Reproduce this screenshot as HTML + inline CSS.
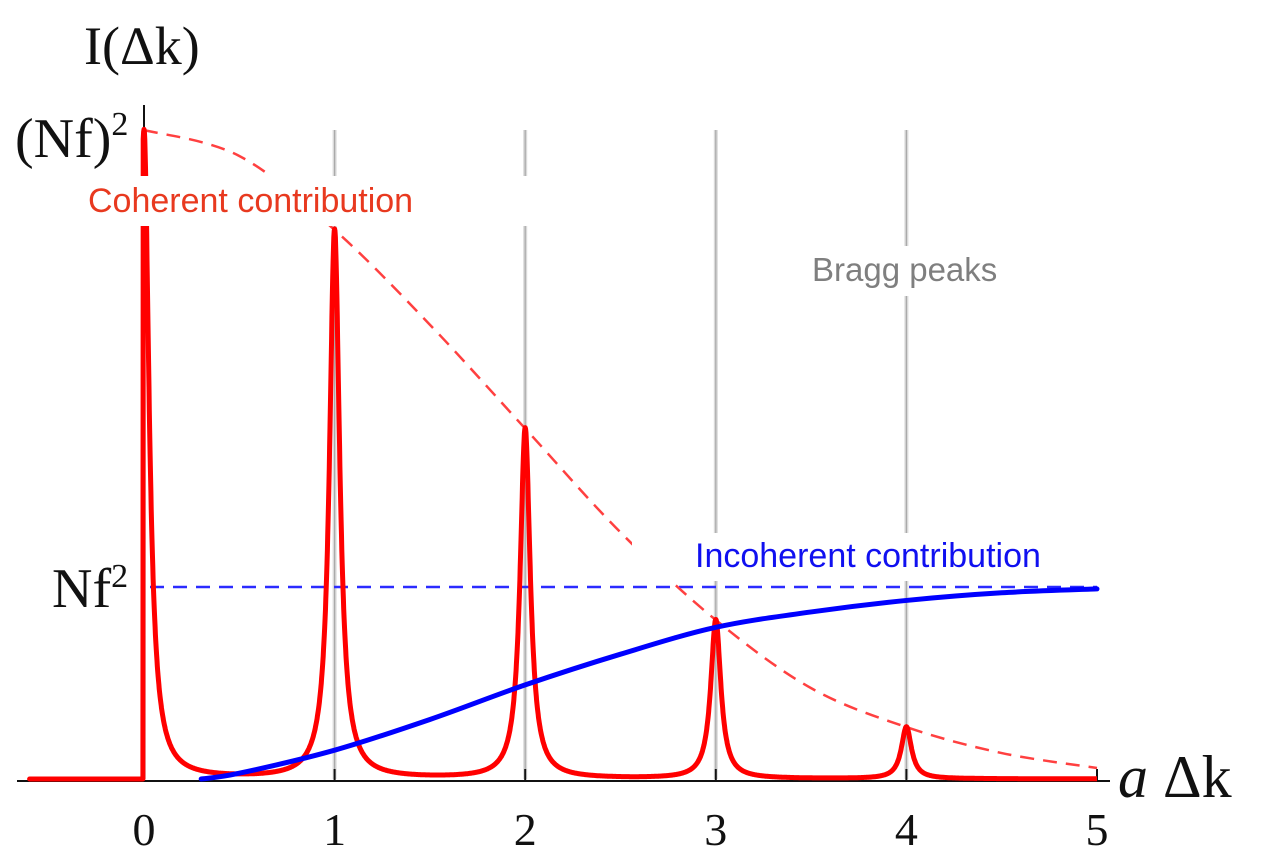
<!DOCTYPE html>
<html><head><meta charset="utf-8"><style>
html,body{margin:0;padding:0;background:#fff;}
svg{display:block;}
.serif{font-family:"Liberation Serif","DejaVu Serif",serif;fill:#111;}
.sans{font-family:"Liberation Sans",Arial,sans-serif;}
</style></head><body>
<svg id="chart" width="1270" height="866" viewBox="0 0 1270 866" xmlns="http://www.w3.org/2000/svg">
<g id="bragg"></g>
<g id="marks"></g>
<g id="labels"></g>
</svg>
<script>
const xTicks = [0, 1, 2, 3, 4, 5];
const braggPositions = [0, 1, 2, 3, 4];
const peakPositions = [0, 1, 2, 3, 4];
const peakHeights = [1.0, 0.846, 0.54, 0.245, 0.08];
const envelopeX = [0, 0.5, 1, 1.5, 2, 2.5, 3, 3.5, 4, 4.5, 5];
const envelopeY = [1.0, 0.96, 0.846, 0.70, 0.54, 0.38, 0.245, 0.14, 0.08, 0.04, 0.017];
const incoherentX = [0.3, 0.5, 1, 1.5, 2, 2.5, 3, 3.5, 4, 4.5, 5];
const incoherentY = [0.0, 0.03, 0.15, 0.31, 0.49, 0.65, 0.79, 0.87, 0.93, 0.97, 0.99];
const incoherentLevel = 1.0;

const NS = "http://www.w3.org/2000/svg";
const X0 = 144, XU = 190.6, Y0 = 779, YCOH = 649, YINC = 192;
function sx(v){ return X0 + v * XU; }
function syCoh(v){ return Y0 - v * YCOH; }
function syInc(v){ return Y0 - v * YINC; }
function mk(tag, attrs, parent){
  const e = document.createElementNS(NS, tag);
  for (const k in attrs) e.setAttribute(k, attrs[k]);
  parent.appendChild(e); return e;
}
const bragg = document.getElementById('bragg');
const marks = document.getElementById('marks');
const labels = document.getElementById('labels');

function catmull(xs, ys, fx, fy){
  const P = xs.map((x, i) => [fx(x), fy(ys[i])]);
  let s = 'M' + P[0][0] + ' ' + P[0][1];
  for (let i = 0; i < P.length - 1; i++) {
    const p0 = P[i - 1] || P[i], p1 = P[i], p2 = P[i + 1], p3 = P[i + 2] || P[i + 1];
    const c1 = [p1[0] + (p2[0] - p0[0]) / 6, p1[1] + (p2[1] - p0[1]) / 6];
    const c2 = [p2[0] - (p3[0] - p1[0]) / 6, p2[1] - (p3[1] - p1[1]) / 6];
    s += 'C' + c1.join(' ') + ' ' + c2.join(' ') + ' ' + p2.join(' ');
  }
  return s;
}

braggPositions.forEach((p) => {
  const r = mk('rect', {x: sx(p) - 2, y: 130, width: 4, height: Y0 - 130, fill: '#dadada'}, bragg);
  
  
  const r2 = mk('rect', {x: sx(p) - 0.6, y: 130, width: 1.2, height: Y0 - 130, fill: '#aaaaaa'}, bragg);
  
  
});

const xa = mk('line', {x1: 17, x2: 1110, y1: 781, y2: 781, stroke: '#111', 'stroke-width': 2}, marks);


const ya = mk('line', {x1: X0, x2: X0, y1: 105, y2: 781, stroke: '#111', 'stroke-width': 2}, marks);


xTicks.forEach(t => {
  const tk = mk('line', {x1: sx(t), x2: sx(t), y1: 769, y2: 781, stroke: '#111', 'stroke-width': 2}, marks);
  
  
  const tl = mk('text', {x: sx(t), y: 845, 'text-anchor': 'middle', 'font-size': 46, class: 'serif'}, labels);
  tl.textContent = t;
  
  
});

const il = mk('line', {x1: X0 + 6, x2: sx(5), y1: syInc(incoherentLevel), y2: syInc(incoherentLevel), stroke: '#2b2bff', 'stroke-width': 2.5, 'stroke-dasharray': '14 9'}, marks);



const env = mk('path', {d: catmull(envelopeX, envelopeY, sx, syCoh), fill: 'none', stroke: '#ff4040', 'stroke-width': 2.5, 'stroke-dasharray': '14 9'}, marks);



let pd = 'M35 ' + Y0;
const g = 0.032;
for (let x = -0.6; x <= 5.0001; x += 0.002) {
  let y = 0;
  peakPositions.forEach((p, i) => { const u = (x - p) / g; y += peakHeights[i] / (1 + u * u); });
  if (x < -0.005) y = 0;
  pd += 'L' + sx(x).toFixed(1) + ' ' + Math.max(syCoh(Math.min(y, 1.05)), 105).toFixed(1);
}
const pk = mk('path', {d: pd, fill: 'none', stroke: '#ff0000', 'stroke-width': 5, 'stroke-linejoin': 'round'}, marks);



const inc = mk('path', {d: catmull(incoherentX, incoherentY, sx, syInc), fill: 'none', stroke: '#0000ff', 'stroke-width': 5, 'stroke-linecap': 'round'}, marks);



const b1 = mk('rect', {x: 80, y: 176, width: 465, height: 50, fill: '#fff'}, labels);


const b2 = mk('rect', {x: 800, y: 246, width: 295, height: 50, fill: '#fff'}, labels);


const b3 = mk('rect', {x: 632, y: 533, width: 466, height: 48, fill: '#fff'}, labels);



function txt(x, y, s, size, cls, fill, name){
  const t = mk('text', {x: x, y: y, 'font-size': size, class: cls}, labels);
  if (fill) t.setAttribute('fill', fill);
  t.innerHTML = s;
  
  
  return t;
}
txt(88, 212, 'Coherent contribution', 34, 'sans', '#e8391f', 'coherent-label');
txt(812, 281, 'Bragg peaks', 33, 'sans', '#7f7f7f', 'bragg-label');
txt(695, 567, 'Incoherent contribution', 34, 'sans', '#1010f0', 'incoherent-label');
txt(84, 64, 'I(Δk)', 54, 'serif', null, 'y-axis-title');
txt(15, 157, '(Nf)<tspan font-size="34" dy="-22">2</tspan>', 56, 'serif', null, 'y-label-coherent-max');
txt(52, 607, 'Nf<tspan font-size="34" dy="-20">2</tspan>', 56, 'serif', null, 'y-label-incoherent-level');
txt(1118, 797, '<tspan font-style="italic">a</tspan> Δk', 60, 'serif', null, 'x-axis-title');
</script>
</body></html>
